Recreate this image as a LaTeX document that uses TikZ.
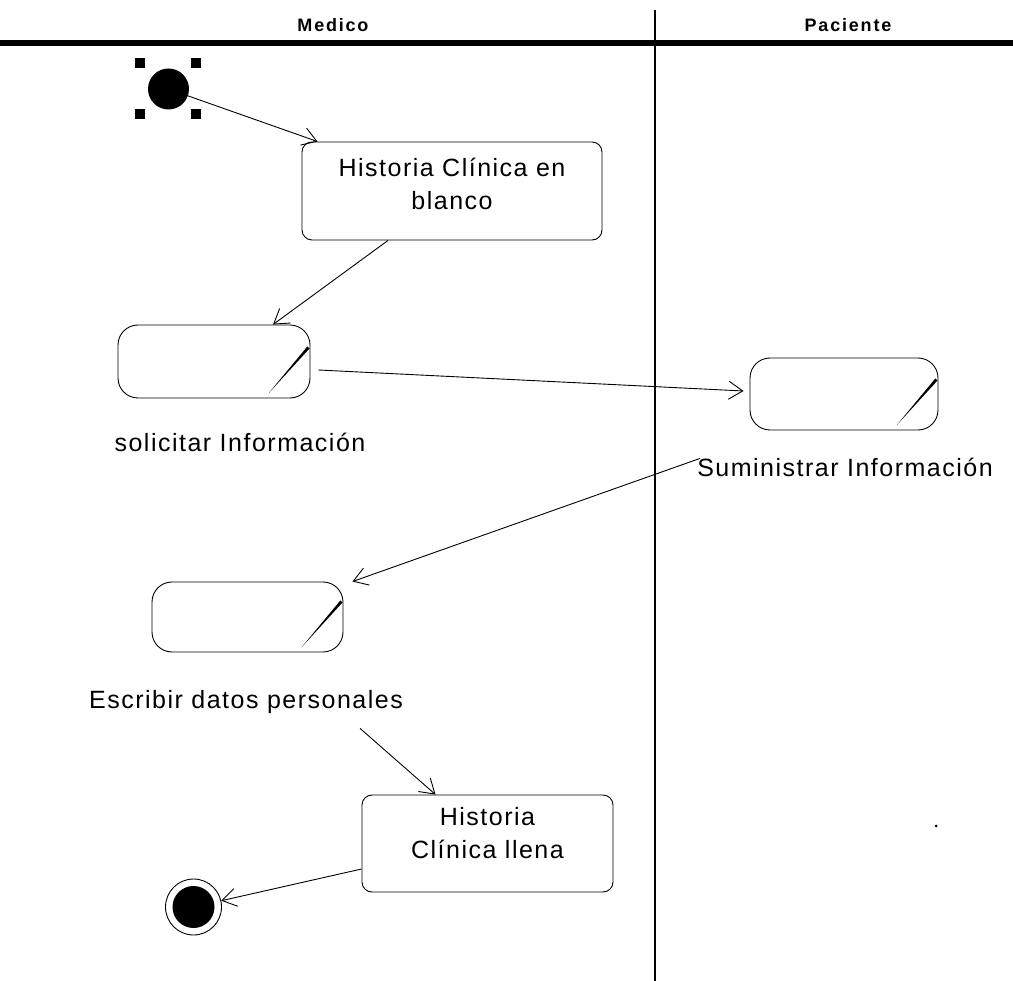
\documentclass[tikz,border=0pt]{standalone}
\usepackage{fontspec}
\newfontfamily\bodyfont{Liberation Sans}[LetterSpace=6]
\newfontfamily\headfont{Liberation Sans}[LetterSpace=10]
\usetikzlibrary{arrows.meta}

\tikzset{
  every node/.style={font=\bodyfont\fontsize{25}{33}\selectfont},
  flow/.style={draw, line width=0.9pt,
    -{Straight Barb[length=14pt,width=18pt,line width=0.9pt]}},
  statebox/.style={draw, line width=0.9pt, rounded corners=10pt,
    minimum width=300pt, minimum height=98pt, inner sep=0pt},
  activity/.style={draw, line width=0.9pt, rounded corners=20pt, inner sep=0pt},
  handle/.style={fill=black, minimum size=10pt, inner sep=0pt},
  caption/.style={inner sep=0pt, anchor=base},
  lane/.style={inner sep=0pt, anchor=base,
    font=\headfont\bfseries\fontsize{18}{20}\selectfont}
}

% slanted stroke in the lower right corner of an activity
\newcommand\stateslash[1]{%
  \fill ([shift={(-42pt,5pt)}]#1.south east)
     -- ([shift={(-0.9pt,50pt)}]#1.south east)
     -- ([shift={(-3.1pt,52pt)}]#1.south east) -- cycle;}

\begin{document}
\begin{tikzpicture}[x=1pt,y=-1pt]
\useasboundingbox (0,0) rectangle (1013,981);

% swimlanes
\draw[line width=5.5pt] (0,43) -- (1013,43);
\draw[line width=2pt] (655,10) -- (655,981);
\node[lane] (medico) at (333,32) {Medico};
\node[lane] (paciente) at (848,32) {Paciente};

% initial state with its selection handles
\node[circle, fill=black, minimum size=41pt, inner sep=0pt] (start) at (168.5,89) {};
\node[handle] (h1) at (140,63) {};
\node[handle] (h2) at (196,63) {};
\node[handle] (h3) at (140,114) {};
\node[handle] (h4) at (196,114) {};

% states and activities
\node[statebox, label={[yshift=7pt,align=center]center:Historia Clínica en\\blanco}]
  (blank) at (452,191) {};

\node[activity, minimum width=192pt, minimum height=73pt] (solicitar) at (214,361.5) {};
\stateslash{solicitar}
\node[caption] (solicitarL) at (240,452) {solicitar Información};

\node[activity, minimum width=188pt, minimum height=72pt] (suministrar) at (844,394) {};
\stateslash{suministrar}
\node[caption] (suministrarL) at (845,477) {Suministrar Información};

\node[activity, minimum width=191pt, minimum height=70pt] (escribir) at (247.5,617) {};
\stateslash{escribir}
\node[caption] (escribirL) at (246,708) {Escribir datos personales};

\node[statebox, minimum width=251pt, minimum height=97pt,
  label={[yshift=10pt,align=center]center:Historia\\Clínica llena}]
  (llena) at (487.5,843.5) {};

% final state
\node[circle, draw, line width=0.9pt, minimum size=56pt, inner sep=0pt] (finish) at (193.5,907) {};
\fill (finish.center) circle (21pt);

\fill (936,826) circle (1.5pt);

% transitions
\draw[flow] (start) -- ([xshift=16pt]blank.north west);
\draw[flow] ([xshift=-64pt]blank.south) -- ([xshift=59pt]solicitar.north);
\draw[flow] ([shift={(8pt,-8.5pt)}]solicitar.east) -- ([shift={(-6pt,3pt)}]suministrar.west);
\draw[flow] ([xshift=3pt]suministrarL.north west) -- ([xshift=9pt]escribir.north east);
\draw[flow] ([shift={(-43pt,-15pt)}]escribirL.south east) -- ([xshift=-52pt]llena.north);
\draw[flow] ([yshift=-25.5pt]llena.west) -- (finish);
\end{tikzpicture}
\end{document}
